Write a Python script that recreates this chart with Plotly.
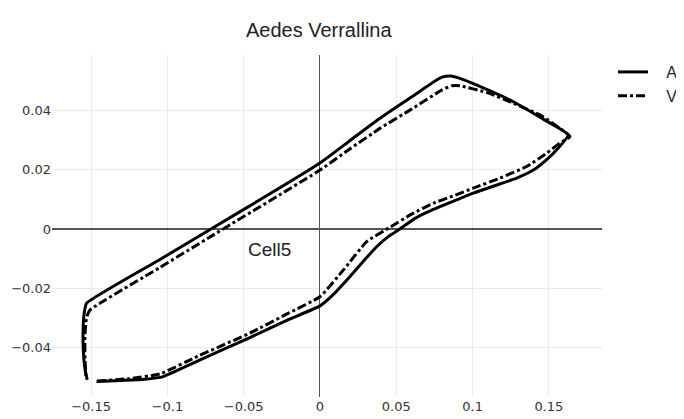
import plotly.graph_objects as go

title_text = "Aedes Verrallina"
series_names = ["Aedes", "Verrallina"]
annotation_text = "Cell5"

a_x = [-0.1464, -0.130, -0.115, -0.1027, -0.080, -0.0459, -0.020, 0.0, 0.010, 0.0197,
       0.030, 0.0371, 0.045, 0.0524, 0.062, 0.0743, 0.088, 0.1005, 0.115, 0.1289,
       0.1398, 0.148, 0.155, 0.1627, 0.145, 0.1267, 0.110, 0.0917, 0.0855, 0.0800,
       0.0754, 0.060, 0.0393, 0.020, 0.0, -0.035, -0.0714, -0.1048, -0.1529, -0.1545,
       -0.1552, -0.155, -0.1538, -0.1525]
a_y = [-0.0516, -0.0512, -0.0508, -0.0499, -0.0446, -0.0367, -0.0305, -0.0260, -0.0215, -0.0161,
       -0.0100, -0.0060, -0.0025, 0.0, 0.0035, 0.0066, 0.0095, 0.0121, 0.0147, 0.0172,
       0.0199, 0.0232, 0.0267, 0.0318, 0.0375, 0.0430, 0.0470, 0.0509, 0.0517, 0.0513,
       0.0500, 0.0446, 0.0374, 0.0300, 0.0223, 0.0112, 0.0, -0.0103, -0.0251, -0.0285,
       -0.034, -0.042, -0.048, -0.0510]

v_x = [-0.1461, -0.125, -0.1048, -0.080, -0.0459, -0.020, 0.0, 0.0153, 0.0306, 0.0459,
       0.060, 0.0743, 0.088, 0.1005, 0.118, 0.1354, 0.1485, 0.157, 0.1638, 0.145,
       0.1267, 0.110, 0.0917, 0.0863, 0.080, 0.060, 0.0393, 0.020, 0.0, -0.0714,
       -0.1048, -0.1507, -0.1530, -0.1540, -0.1540, -0.1533]
v_y = [-0.0514, -0.0506, -0.0490, -0.0430, -0.0352, -0.0283, -0.0229, -0.0139, -0.0043, 0.0006,
       0.0050, 0.0087, 0.0113, 0.0138, 0.0172, 0.0211, 0.0256, 0.0290, 0.0312, 0.0383,
       0.0425, 0.0460, 0.0484, 0.0484, 0.0470, 0.0405, 0.0340, 0.0272, 0.0199, -0.0025,
       -0.0130, -0.0274, -0.0300, -0.036, -0.044, -0.0499]

x_ticks = [-0.15, -0.1, -0.05, 0, 0.05, 0.1, 0.15]
x_tick_labels = ["\u22120.15", "\u22120.1", "\u22120.05", "0", "0.05", "0.1", "0.15"]
y_ticks = [-0.04, -0.02, 0, 0.02, 0.04]
y_tick_labels = ["\u22120.04", "\u22120.02", "0", "0.02", "0.04"]

pad = "\u00a0\u00a0\u00a0"

fig = go.Figure()
fig.add_trace(go.Scatter(x=a_x, y=a_y, mode="lines", name=pad + series_names[0],
                         line=dict(color="black", width=3, dash="solid", shape="spline", smoothing=0.4)))
fig.add_trace(go.Scatter(x=v_x, y=v_y, mode="lines", name=pad + series_names[1],
                         line=dict(color="black", width=3, dash="dashdot", shape="spline", smoothing=0.4)))

fig.add_annotation(x=-0.0328, y=-0.0068, text=annotation_text, showarrow=False,
                   font=dict(family="Liberation Sans, Arial", size=19, color="#222"))

fig.update_layout(
    width=676, height=411,
    title=dict(text=title_text, x=0.485, xref="paper", y=0.9465, yanchor="middle",
               font=dict(family="Liberation Sans, Arial", size=20, color="#222")),
    paper_bgcolor="white", plot_bgcolor="white",
    margin=dict(l=44, r=82, t=47, b=22, autoexpand=False),
    showlegend=True,
    legend=dict(x=1.02, y=1.0, xanchor="left", yanchor="top",
                font=dict(family="Liberation Sans, Arial", size=16, color="#222"),
                tracegroupgap=0, bgcolor="rgba(0,0,0,0)"),
    xaxis=dict(range=[-0.1756, 0.1848], tickvals=x_ticks, ticktext=x_tick_labels,
               showgrid=True, gridcolor="#ebebeb", gridwidth=1,
               zeroline=True, zerolinecolor="#555", zerolinewidth=1.3,
               showline=False, ticks="",
               tickfont=dict(family="DejaVu Sans, Verdana", size=13, color="#333")),
    yaxis=dict(range=[-0.0568, 0.0588], tickvals=y_ticks, ticktext=y_tick_labels,
               showgrid=True, gridcolor="#ebebeb", gridwidth=1,
               zeroline=True, zerolinecolor="#555", zerolinewidth=2,
               showline=False, ticks="",
               tickfont=dict(family="DejaVu Sans, Verdana", size=13, color="#333")),
)

fig.write_html("out.html")
